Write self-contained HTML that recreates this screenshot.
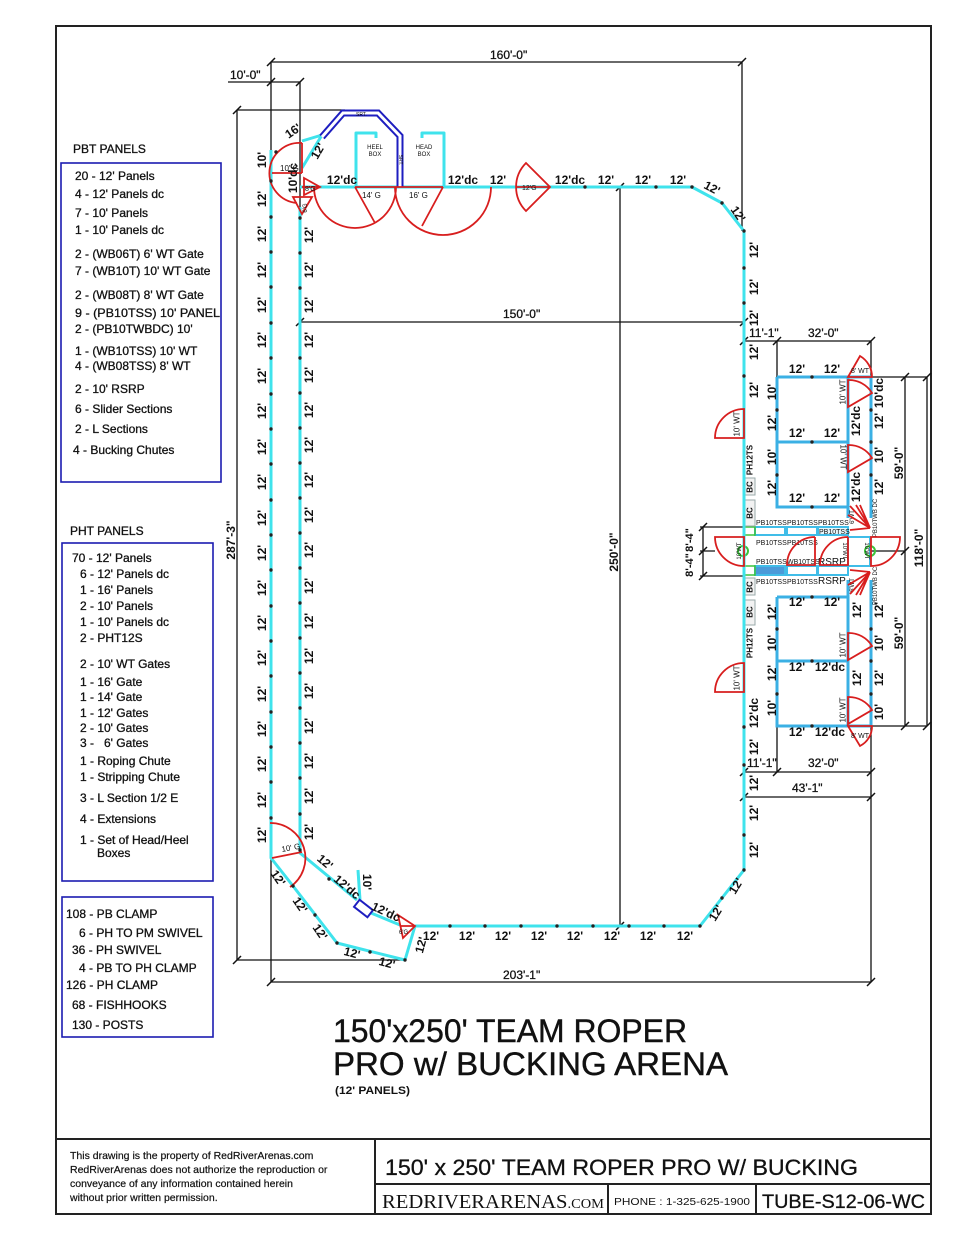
<!DOCTYPE html>
<html><head><meta charset="utf-8"><style>
html,body{margin:0;padding:0;background:#fff}
svg{display:block}
text{font-family:"Liberation Sans",Arial,sans-serif;fill:#111}
.l{font-size:12px;stroke:#111;stroke-width:0.3}
.s{font-size:12px;stroke:#111;stroke-width:0.3}
.r{text-anchor:middle;dominant-baseline:central;font-size:12px;font-weight:bold}
.m{text-anchor:middle;font-size:12px}
.tiny{font-size:7px}
.sm{font-size:8px}
.dim{stroke:#111;stroke-width:1.3;fill:none}
.cy{stroke:#3fe3ec;stroke-width:3;fill:none;stroke-linejoin:round}
.pb{stroke:#3bb0e4;stroke-width:3;fill:none}
.rd{stroke:#d81e1e;stroke-width:1.8;fill:none}
.bl{stroke:#1e1ec0;stroke-width:1.6;fill:none}
</style></head><body>
<svg width="960" height="1242" viewBox="0 0 960 1242" xmlns="http://www.w3.org/2000/svg">
<rect width="960" height="1242" fill="#fff"/>
<!-- frame -->
<rect x="56" y="26" width="875" height="1188" fill="none" stroke="#222" stroke-width="2"/>
<path d="M56,1139 H931 M375,1139 V1214 M375,1184 H931 M608,1184 V1214 M756,1184 V1214" stroke="#222" stroke-width="2" fill="none"/>

<!-- legend boxes -->
<text x="73" y="153" class="l">PBT PANELS</text>
<rect x="61" y="163" width="160" height="319" fill="none" stroke="#1c1cb0" stroke-width="1.6"/>
<g class="l">
<text x="75" y="180">20 - 12' Panels</text>
<text x="75" y="198">4 - 12' Panels dc</text>
<text x="75" y="217">7 - 10' Panels</text>
<text x="75" y="234">1 - 10' Panels dc</text>
<text x="75" y="258">2 - (WB06T) 6' WT Gate</text>
<text x="75" y="275">7 - (WB10T) 10' WT Gate</text>
<text x="75" y="299">2 - (WB08T) 8' WT Gate</text>
<text x="75" y="317" textLength="145" lengthAdjust="spacingAndGlyphs">9 - (PB10TSS) 10' PANEL</text>
<text x="75" y="333">2 - (PB10TWBDC) 10'</text>
<text x="75" y="355">1 - (WB10TSS) 10' WT</text>
<text x="75" y="370">4 - (WB08TSS) 8' WT</text>
<text x="75" y="393">2 - 10' RSRP</text>
<text x="75" y="413">6 - Slider Sections</text>
<text x="75" y="433">2 - L Sections</text>
<text x="73" y="454">4 - Bucking Chutes</text>
</g>

<text x="70" y="535" class="l">PHT PANELS</text>
<rect x="62" y="543" width="151" height="338" fill="none" stroke="#1c1cb0" stroke-width="1.6"/>
<g class="l">
<text x="72" y="562">70 - 12' Panels</text>
<text x="80" y="578">6 - 12' Panels dc</text>
<text x="80" y="594">1 - 16' Panels</text>
<text x="80" y="610">2 - 10' Panels</text>
<text x="80" y="626">1 - 10' Panels dc</text>
<text x="80" y="642">2 - PHT12S</text>
<text x="80" y="668">2 - 10' WT Gates</text>
<text x="80" y="686">1 - 16' Gate</text>
<text x="80" y="701">1 - 14' Gate</text>
<text x="80" y="717">1 - 12' Gates</text>
<text x="80" y="732">2 - 10' Gates</text>
<text x="80" y="747" xml:space="preserve">3 -   6' Gates</text>
<text x="80" y="765">1 - Roping Chute</text>
<text x="80" y="781">1 - Stripping Chute</text>
<text x="80" y="802">3 - L Section 1/2 E</text>
<text x="80" y="823">4 - Extensions</text>
<text x="80" y="844">1 - Set of Head/Heel</text>
<text x="97" y="857">Boxes</text>
</g>
<rect x="62" y="897" width="151" height="140" fill="none" stroke="#1c1cb0" stroke-width="1.6"/>
<g class="l">
<text x="66" y="918">108 - PB CLAMP</text>
<text x="79" y="937">6 - PH TO PM SWIVEL</text>
<text x="72" y="954">36 - PH SWIVEL</text>
<text x="79" y="972">4 - PB TO PH CLAMP</text>
<text x="66" y="989">126 - PH CLAMP</text>
<text x="72" y="1009">68 - FISHHOOKS</text>
<text x="72" y="1029">130 - POSTS</text>
</g>

<!-- dimension lines -->
<path class="dim" d="M271,62 H742 M228,82 H300 M271,62 V982 M300,82 V850 M742,62 V231 M237,110 H345 M237,110 V960 M237,960 H405 M271,982 H871 M300,322 H744 M620,187 V926 M744,341 H871 M777,341 V377 M744,772 H871 M777,726 V772 M744,797 H871 M871,726 V982 M871,377 H927 M871,726 H927 M905,377 V726 M927,377 V726 M871,551 H905 M700,527 H744 M700,576 H744 M703,527 V576 M700,551 H715 M900,551 H905 M871,341 V377"/>
<path stroke="#111" stroke-width="1.5" fill="none" d="M267,66 l8,-8 M738,66 l8,-8 M267,86 l8,-8 M296,86 l8,-8 M233,114 l8,-8 M233,964 l8,-8 M267,986 l8,-8 M867,986 l8,-8 M296,326 l8,-8 M740,326 l8,-8 M616,191 l8,-8 M616,930 l8,-8 M740,345 l8,-8 M773,345 l8,-8 M867,345 l8,-8 M740,776 l8,-8 M773,776 l8,-8 M867,776 l8,-8 M740,801 l8,-8 M867,801 l8,-8 M901,381 l8,-8 M901,555 l8,-8 M901,730 l8,-8 M923,381 l8,-8 M923,730 l8,-8 M699,531 l8,-8 M699,555 l8,-8 M699,580 l8,-8"/>

<!-- dimension text -->
<text x="490" y="59" class="s">160'-0"</text>
<text x="230" y="79" class="s">10'-0"</text>
<text x="503" y="318" class="s">150'-0"</text>
<text x="503" y="979" class="s">203'-1"</text>
<text class="r" transform="translate(231 540) rotate(-90)">287'-3"</text>
<text class="r" transform="translate(614 552) rotate(-90)">250'-0"</text>
<text x="749" y="337" class="s">11'-1"</text>
<text x="808" y="337" class="s">32'-0"</text>
<text x="747" y="767" class="s">11'-1"</text>
<text x="808" y="767" class="s">32'-0"</text>
<text x="792" y="792" class="s">43'-1"</text>
<text class="r" transform="translate(899 463) rotate(-90)">59'-0"</text>
<text class="r" transform="translate(899 633) rotate(-90)">59'-0"</text>
<text class="r" transform="translate(919 548) rotate(-90)">118'-0"</text>
<text class="r" style="font-size:11px" transform="translate(690 540) rotate(-90)">8'-4"</text>
<text class="r" style="font-size:11px" transform="translate(690 565) rotate(-90)">8'-4"</text>

<!-- pens -->
<path class="pb" d="M777,377 H871 M777,377 V507 H848 M777,442 H848 M848,377 V518 M871,377 V518 M777,597 H848 M777,597 V726 H871 M777,661 H848 M848,580 V726 M871,580 V726"/>
<!-- chute rows -->
<g stroke="#40bde8" stroke-width="2" fill="none">
<rect x="755" y="527" width="30" height="8"/>
<rect x="787" y="527" width="30" height="8"/>
<rect x="818" y="527" width="30" height="8" fill="#e8f6fb"/>
<rect x="755" y="566" width="30" height="9" fill="#4b9ad8"/>
<rect x="787" y="566" width="30" height="9"/>
<rect x="818" y="566" width="30" height="9"/>
<rect x="848" y="537" width="22" height="29"/>
</g>
<rect x="744" y="527" width="11" height="8" fill="none" stroke="#3cc43c" stroke-width="1.5"/>
<rect x="744" y="566" width="11" height="9" fill="none" stroke="#3cc43c" stroke-width="1.5"/>
<circle cx="743" cy="551" r="5" fill="none" stroke="#3cc43c" stroke-width="2"/>
<circle cx="870" cy="551" r="5" fill="none" stroke="#3cc43c" stroke-width="2"/>
<!-- BC boxes -->
<g fill="#f2f2f2" stroke="#9aa" stroke-width="1">
<rect x="744" y="478" width="11" height="17"/>
<rect x="744" y="500" width="11" height="26"/>
<rect x="744" y="578" width="11" height="17"/>
<rect x="744" y="600" width="11" height="25"/>
</g>
<g class="r" style="font-size:8px">
<text transform="translate(750 487) rotate(-90)">BC</text>
<text transform="translate(750 513) rotate(-90)">BC</text>
<text transform="translate(750 587) rotate(-90)">BC</text>
<text transform="translate(750 612) rotate(-90)">BC</text>
<text transform="translate(750 460) rotate(-90)">PH12TS</text>
<text transform="translate(750 643) rotate(-90)">PH12TS</text>
</g>
<g class="tiny">
<text x="756" y="525">PB10TSS</text><text x="787" y="525">PB10TSS</text><text x="818" y="525">PB10TSS</text>
<text x="819" y="534">PB10TSS</text>
<text x="756" y="545">PB10TSS</text><text x="787" y="545">PB10TSS</text>
<text x="756" y="564">PB10TSS</text><text x="787" y="564">WB10TSS</text>
<text x="756" y="584">PB10TSS</text><text x="787" y="584">PB10TSS</text>
</g>
<text x="818" y="565" style="font-size:10px">RSRP</text>
<text x="818" y="584" style="font-size:10px">RSRP</text>
<g class="r" style="font-size:6px;font-weight:normal">
<text transform="translate(876 518) rotate(-90)">PB10TWB DC</text>
<text transform="translate(876 586) rotate(-90)">PB10TWB DC</text>
<text transform="translate(740 551) rotate(-90)">10'WT</text>
<text transform="translate(866 551) rotate(90)">10'WT</text>
<text transform="translate(844 551) rotate(90)">10'WT</text>
<text transform="translate(853 517) rotate(-90)">6'WT</text>
<text transform="translate(853 585) rotate(-90)">6'WT</text>
</g>

<!-- cyan fence -->
<path class="cy" d="M300,187 H692 L722,203 L744,231 V870 L722,898 L700,926 H415"/>
<path class="cy" d="M300,207 V853 L357,900 M371,913 L400,925"/>
<path class="cy" d="M271,150 V858 L293,886 L337,943 L405,960 L415,926"/>
<path class="cy" d="M358,870 L360,900"/>
<path class="cy" d="M302,141 L322,135 L302,168"/>
<path class="cy" d="M376,138 V133 H356 V187 M422,138 V133 H444 V187"/>
<text x="375" y="149" class="tiny" text-anchor="middle" style="font-size:6px">HEEL</text>
<text x="375" y="156" class="tiny" text-anchor="middle" style="font-size:6px">BOX</text>
<text x="424" y="149" class="tiny" text-anchor="middle" style="font-size:6px">HEAD</text>
<text x="424" y="156" class="tiny" text-anchor="middle" style="font-size:6px">BOX</text>

<!-- blue chute -->
<path d="M322,137 L343,113 H378 L400,136 V187" stroke="#1e1ec0" stroke-width="7" fill="none" stroke-linejoin="miter"/>
<path d="M322,137 L343,113 H378 L400,136 V187" stroke="#fff" stroke-width="3" fill="none"/>
<text x="356" y="116" style="font-size:5px">SRT.</text>
<text class="r" style="font-size:5px;font-weight:normal" transform="translate(400 160) rotate(90)">SRT.</text>
<rect x="359" y="900" width="9" height="17" transform="rotate(-52 363.5 908.5)" fill="#fff" stroke="#1e1ec0" stroke-width="2"/>

<!-- red gates -->
<g class="rd">
<path d="M302,143 A30,30 0 0 0 297,203 M272,173 H302 M302,143 V173"/>
<path d="M304,178 L320,187 L304,195 Z M302,187 H320"/>
<path d="M293,197 L312,197 L302,214 Z"/>
<path d="M355,187 H443 M396,187 A41,41 0 0 1 314,187 M355,187 L375,223 M491,187 A48,48 0 0 1 395,187 M443,187 L422,226"/>
<path d="M550,187 L526,163 A34,34 0 0 0 526,211 Z M516,187 H550"/>
<path d="M744,438 L715,438 A29,29 0 0 1 744,409 Z"/>
<path d="M744,692 L715,692 A29,29 0 0 1 744,663 Z"/>
<path d="M848,377 L872,377 A24,24 0 0 0 860,356 Z"/>
<path d="M848,380 A27,27 0 0 1 872,393 L848,407 Z"/>
<path d="M848,445 A27,27 0 0 1 872,458 L848,472 Z"/>
<path d="M848,633 A27,27 0 0 1 872,646 L848,660 Z"/>
<path d="M848,697 A27,27 0 0 1 872,710 L848,724 Z"/>
<path d="M848,726 L872,726 A22,22 0 0 1 860,746 Z"/>
<path d="M715,537 H744 V566 A29,29 0 0 1 715,537 Z"/>
<path d="M900,537 H871 V566 A29,29 0 0 0 900,537 Z"/>
<path d="M815,537 V565 H787 A28,28 0 0 1 815,537"/>
<path d="M848,537 V565 H820 A28,28 0 0 1 848,537"/>
<path d="M870,528 L850,506 M870,528 L856,505 M870,528 L848,515 M870,528 L850,530 M870,528 L860,505"/>
<path d="M870,572 L850,594 M870,572 L856,595 M870,572 L848,585 M870,572 L850,570 M870,572 L860,595"/>
<path d="M270,823 A35,35 0 0 1 290,887 M272,858 L302,852"/>
<path d="M398,915 L415,926 L403,938 Z M400,926 H415"/>
</g>
<g class="sm">
<text x="280" y="171" style="font-size:8px">10' G</text>
<text x="305" y="191" style="font-size:7px">8'G</text>
<text x="362" y="198">14' G</text>
<text x="409" y="198">16' G</text>
<text x="522" y="190" style="font-size:7px">12'G</text>
<text x="851" y="373" style="font-size:7px">8' WT</text>
<text x="851" y="738" style="font-size:7px">8' WT</text>
<text x="282" y="852" style="font-size:8px" transform="rotate(-10 282 852)">10' G</text>
<text x="399" y="934" style="font-size:6px">6'G</text>
</g>
<g class="r" style="font-size:8px;font-weight:normal">
<text transform="translate(737 424) rotate(-90)">10' WT</text>
<text transform="translate(737 678) rotate(-90)">10' WT</text>
<text transform="translate(843 392) rotate(-90)">10' WT</text>
<text transform="translate(843 457) rotate(90)">10' WT</text>
<text transform="translate(843 645) rotate(-90)">10' WT</text>
<text transform="translate(843 710) rotate(-90)">10' WT</text>
<text transform="translate(306 208) rotate(-90)" style="font-size:6px">6'G</text>
</g>

<!-- posts -->
<g fill="#222">
<circle cx="271" cy="181" r="1.7"/><circle cx="271" cy="217" r="1.7"/><circle cx="271" cy="252" r="1.7"/><circle cx="271" cy="287" r="1.7"/><circle cx="271" cy="323" r="1.7"/><circle cx="271" cy="358" r="1.7"/><circle cx="271" cy="394" r="1.7"/><circle cx="271" cy="429" r="1.7"/><circle cx="271" cy="464" r="1.7"/><circle cx="271" cy="500" r="1.7"/><circle cx="271" cy="535" r="1.7"/><circle cx="271" cy="570" r="1.7"/><circle cx="271" cy="606" r="1.7"/><circle cx="271" cy="641" r="1.7"/><circle cx="271" cy="676" r="1.7"/><circle cx="271" cy="712" r="1.7"/><circle cx="271" cy="747" r="1.7"/><circle cx="271" cy="782" r="1.7"/><circle cx="271" cy="818" r="1.7"/><circle cx="276" cy="152" r="1.7"/>
<circle cx="300" cy="218" r="1.7"/><circle cx="300" cy="253" r="1.7"/><circle cx="300" cy="288" r="1.7"/><circle cx="300" cy="358" r="1.7"/><circle cx="300" cy="393" r="1.7"/><circle cx="300" cy="428" r="1.7"/><circle cx="300" cy="463" r="1.7"/><circle cx="300" cy="498" r="1.7"/><circle cx="300" cy="533" r="1.7"/><circle cx="300" cy="568" r="1.7"/><circle cx="300" cy="603" r="1.7"/><circle cx="300" cy="638" r="1.7"/><circle cx="300" cy="673" r="1.7"/><circle cx="300" cy="708" r="1.7"/><circle cx="300" cy="743" r="1.7"/><circle cx="300" cy="778" r="1.7"/><circle cx="300" cy="814" r="1.7"/><circle cx="300" cy="850" r="1.7"/>
<circle cx="585" cy="187" r="1.7"/><circle cx="656" cy="187" r="1.7"/><circle cx="692" cy="187" r="1.7"/><circle cx="722" cy="203" r="1.7"/>
<circle cx="744" cy="231" r="1.7"/><circle cx="744" cy="268" r="1.7"/><circle cx="744" cy="303" r="1.7"/><circle cx="744" cy="376" r="1.7"/><circle cx="744" cy="727" r="1.7"/><circle cx="744" cy="765" r="1.7"/><circle cx="744" cy="835" r="1.7"/><circle cx="744" cy="870" r="1.7"/><circle cx="722" cy="898" r="1.7"/>
<circle cx="450" cy="926" r="1.7"/><circle cx="485" cy="926" r="1.7"/><circle cx="521" cy="926" r="1.7"/><circle cx="557" cy="926" r="1.7"/><circle cx="593" cy="926" r="1.7"/><circle cx="629" cy="926" r="1.7"/><circle cx="664" cy="926" r="1.7"/><circle cx="700" cy="926" r="1.7"/>
<circle cx="293" cy="886" r="1.7"/><circle cx="315" cy="915" r="1.7"/><circle cx="337" cy="943" r="1.7"/><circle cx="370" cy="952" r="1.7"/><circle cx="405" cy="960" r="1.7"/><circle cx="329" cy="879" r="1.7"/>
<circle cx="812" cy="377" r="1.7"/><circle cx="812" cy="442" r="1.7"/><circle cx="812" cy="507" r="1.7"/><circle cx="777" cy="410" r="1.7"/><circle cx="777" cy="475" r="1.7"/><circle cx="871" cy="410" r="1.7"/><circle cx="871" cy="442" r="1.7"/><circle cx="871" cy="475" r="1.7"/>
<circle cx="812" cy="597" r="1.7"/><circle cx="812" cy="661" r="1.7"/><circle cx="812" cy="726" r="1.7"/><circle cx="777" cy="629" r="1.7"/><circle cx="777" cy="694" r="1.7"/><circle cx="871" cy="629" r="1.7"/><circle cx="871" cy="661" r="1.7"/><circle cx="871" cy="694" r="1.7"/>
</g>

<!-- left alley labels -->
<g class="r">
<text transform="translate(262 160) rotate(-90)">10'</text>
<text transform="translate(262 199) rotate(-90)">12'</text><text transform="translate(262 234) rotate(-90)">12'</text><text transform="translate(262 270) rotate(-90)">12'</text><text transform="translate(262 305) rotate(-90)">12'</text><text transform="translate(262 340) rotate(-90)">12'</text><text transform="translate(262 376) rotate(-90)">12'</text><text transform="translate(262 411) rotate(-90)">12'</text><text transform="translate(262 447) rotate(-90)">12'</text><text transform="translate(262 482) rotate(-90)">12'</text><text transform="translate(262 518) rotate(-90)">12'</text><text transform="translate(262 553) rotate(-90)">12'</text><text transform="translate(262 588) rotate(-90)">12'</text><text transform="translate(262 623) rotate(-90)">12'</text><text transform="translate(262 658) rotate(-90)">12'</text><text transform="translate(262 694) rotate(-90)">12'</text><text transform="translate(262 729) rotate(-90)">12'</text><text transform="translate(262 764) rotate(-90)">12'</text><text transform="translate(262 800) rotate(-90)">12'</text><text transform="translate(262 835) rotate(-90)">12'</text>
<text transform="translate(309 235) rotate(-90)">12'</text><text transform="translate(309 270) rotate(-90)">12'</text><text transform="translate(309 305) rotate(-90)">12'</text><text transform="translate(309 340) rotate(-90)">12'</text><text transform="translate(309 375) rotate(-90)">12'</text><text transform="translate(309 410) rotate(-90)">12'</text><text transform="translate(309 445) rotate(-90)">12'</text><text transform="translate(309 480) rotate(-90)">12'</text><text transform="translate(309 515) rotate(-90)">12'</text><text transform="translate(309 550) rotate(-90)">12'</text><text transform="translate(309 586) rotate(-90)">12'</text><text transform="translate(309 621) rotate(-90)">12'</text><text transform="translate(309 656) rotate(-90)">12'</text><text transform="translate(309 691) rotate(-90)">12'</text><text transform="translate(309 726) rotate(-90)">12'</text><text transform="translate(309 761) rotate(-90)">12'</text><text transform="translate(309 796) rotate(-90)">12'</text><text transform="translate(309 832) rotate(-90)">12'</text>
<text transform="translate(293 178) rotate(-90)">10'dc</text>
<text transform="translate(293 131) rotate(-35)">16'</text>
<text transform="translate(318 151) rotate(-60)">12'</text>
<!-- top fence -->
<text transform="translate(342 180)">12'dc</text>
<text transform="translate(463 180)">12'dc</text>
<text transform="translate(498 180)">12'</text>
<text transform="translate(570 180)">12'dc</text>
<text transform="translate(606 180)">12'</text>
<text transform="translate(643 180)">12'</text>
<text transform="translate(678 180)">12'</text>
<text transform="translate(712 188) rotate(28)">12'</text>
<text transform="translate(738 214) rotate(55)">12'</text>
<!-- right wall -->
<text transform="translate(754 250) rotate(-90)">12'</text>
<text transform="translate(754 287) rotate(-90)">12'</text>
<text transform="translate(754 318) rotate(-90)">12'</text>
<text transform="translate(754 352) rotate(-90)">12'</text>
<text transform="translate(754 390) rotate(-90)">12'</text>
<text transform="translate(754 713) rotate(-90)">12'dc</text>
<text transform="translate(754 747) rotate(-90)">12'</text>
<text transform="translate(754 783) rotate(-90)">12'</text>
<text transform="translate(754 813) rotate(-90)">12'</text>
<text transform="translate(754 850) rotate(-90)">12'</text>
<text transform="translate(736 886) rotate(-58)">12'</text>
<text transform="translate(716 913) rotate(-58)">12'</text>
<!-- bottom fence -->
<text transform="translate(431 936)">12'</text><text transform="translate(467 936)">12'</text><text transform="translate(503 936)">12'</text><text transform="translate(539 936)">12'</text><text transform="translate(575 936)">12'</text><text transform="translate(612 936)">12'</text><text transform="translate(648 936)">12'</text><text transform="translate(685 936)">12'</text>
<!-- bottom left -->
<text transform="translate(278 878) rotate(55)">12'</text>
<text transform="translate(300 905) rotate(55)">12'</text>
<text transform="translate(320 932) rotate(55)">12'</text>
<text transform="translate(352 953) rotate(15)">12'</text>
<text transform="translate(387 963) rotate(15)">12'</text>
<text transform="translate(325 862) rotate(40)">12'</text>
<text transform="translate(347 887) rotate(40)">12'dc</text>
<text transform="translate(367 882) rotate(90)">10'</text>
<text transform="translate(386 912) rotate(25)">12'dc</text>
<text transform="translate(421 945) rotate(-75)">12'</text>
<!-- pens upper -->
<text transform="translate(797 369)">12'</text><text transform="translate(832 369)">12'</text>
<text transform="translate(797 433)">12'</text><text transform="translate(832 433)">12'</text>
<text transform="translate(797 498)">12'</text><text transform="translate(832 498)">12'</text>
<text transform="translate(772 392) rotate(-90)">10'</text><text transform="translate(772 423) rotate(-90)">12'</text><text transform="translate(772 457) rotate(-90)">10'</text><text transform="translate(772 488) rotate(-90)">12'</text>
<text transform="translate(856 421) rotate(-90)">12'dc</text><text transform="translate(856 487) rotate(-90)">12'dc</text>
<text transform="translate(879 393) rotate(-90)">10'dc</text><text transform="translate(879 421) rotate(-90)">12'</text><text transform="translate(879 455) rotate(-90)">10'</text><text transform="translate(879 487) rotate(-90)">12'</text>
<!-- pens lower -->
<text transform="translate(797 602)">12'</text><text transform="translate(832 602)">12'</text>
<text transform="translate(797 667)">12'</text><text transform="translate(830 667)">12'dc</text>
<text transform="translate(797 732)">12'</text><text transform="translate(830 732)">12'dc</text>
<text transform="translate(772 612) rotate(-90)">12'</text><text transform="translate(772 643) rotate(-90)">10'</text><text transform="translate(772 673) rotate(-90)">12'</text><text transform="translate(772 708) rotate(-90)">10'</text>
<text transform="translate(857 610) rotate(-90)">12'</text><text transform="translate(857 678) rotate(-90)">12'</text>
<text transform="translate(879 610) rotate(-90)">12'</text><text transform="translate(879 643) rotate(-90)">10'</text><text transform="translate(879 678) rotate(-90)">12'</text><text transform="translate(879 712) rotate(-90)">10'</text>
</g>

<!-- main title -->
<text x="333" y="1042" style="font-size:32px;stroke:#111;stroke-width:0.4" textLength="354" lengthAdjust="spacingAndGlyphs">150'x250' TEAM ROPER</text>
<text x="333" y="1075" style="font-size:32px;stroke:#111;stroke-width:0.4" textLength="395" lengthAdjust="spacingAndGlyphs">PRO w/ BUCKING ARENA</text>
<text x="335" y="1094" style="font-size:11px;font-weight:bold" textLength="75" lengthAdjust="spacingAndGlyphs">(12' PANELS)</text>

<!-- title block -->
<g style="font-size:10.5px;stroke:#111;stroke-width:0.2">
<text x="70" y="1159">This drawing is the property of RedRiverArenas.com</text>
<text x="70" y="1173">RedRiverArenas does not authorize the reproduction or</text>
<text x="70" y="1187">conveyance of any information contained herein</text>
<text x="70" y="1201">without prior written permission.</text>
</g>
<text x="385" y="1175" style="font-size:22px;stroke:#111;stroke-width:0.3" textLength="473" lengthAdjust="spacingAndGlyphs">150' x 250' TEAM ROPER PRO W/ BUCKING</text>
<text x="382" y="1208" style="font-family:'Liberation Serif',serif;font-size:20px" textLength="222" lengthAdjust="spacingAndGlyphs">REDRIVERARENAS<tspan style="font-size:14px">.COM</tspan></text>
<text x="614" y="1205" style="font-size:10px" textLength="136" lengthAdjust="spacingAndGlyphs">PHONE : 1-325-625-1900</text>
<text x="762" y="1208" style="font-size:19px;stroke:#111;stroke-width:0.3" textLength="163" lengthAdjust="spacingAndGlyphs">TUBE-S12-06-WC</text>
</svg>
</body></html>
